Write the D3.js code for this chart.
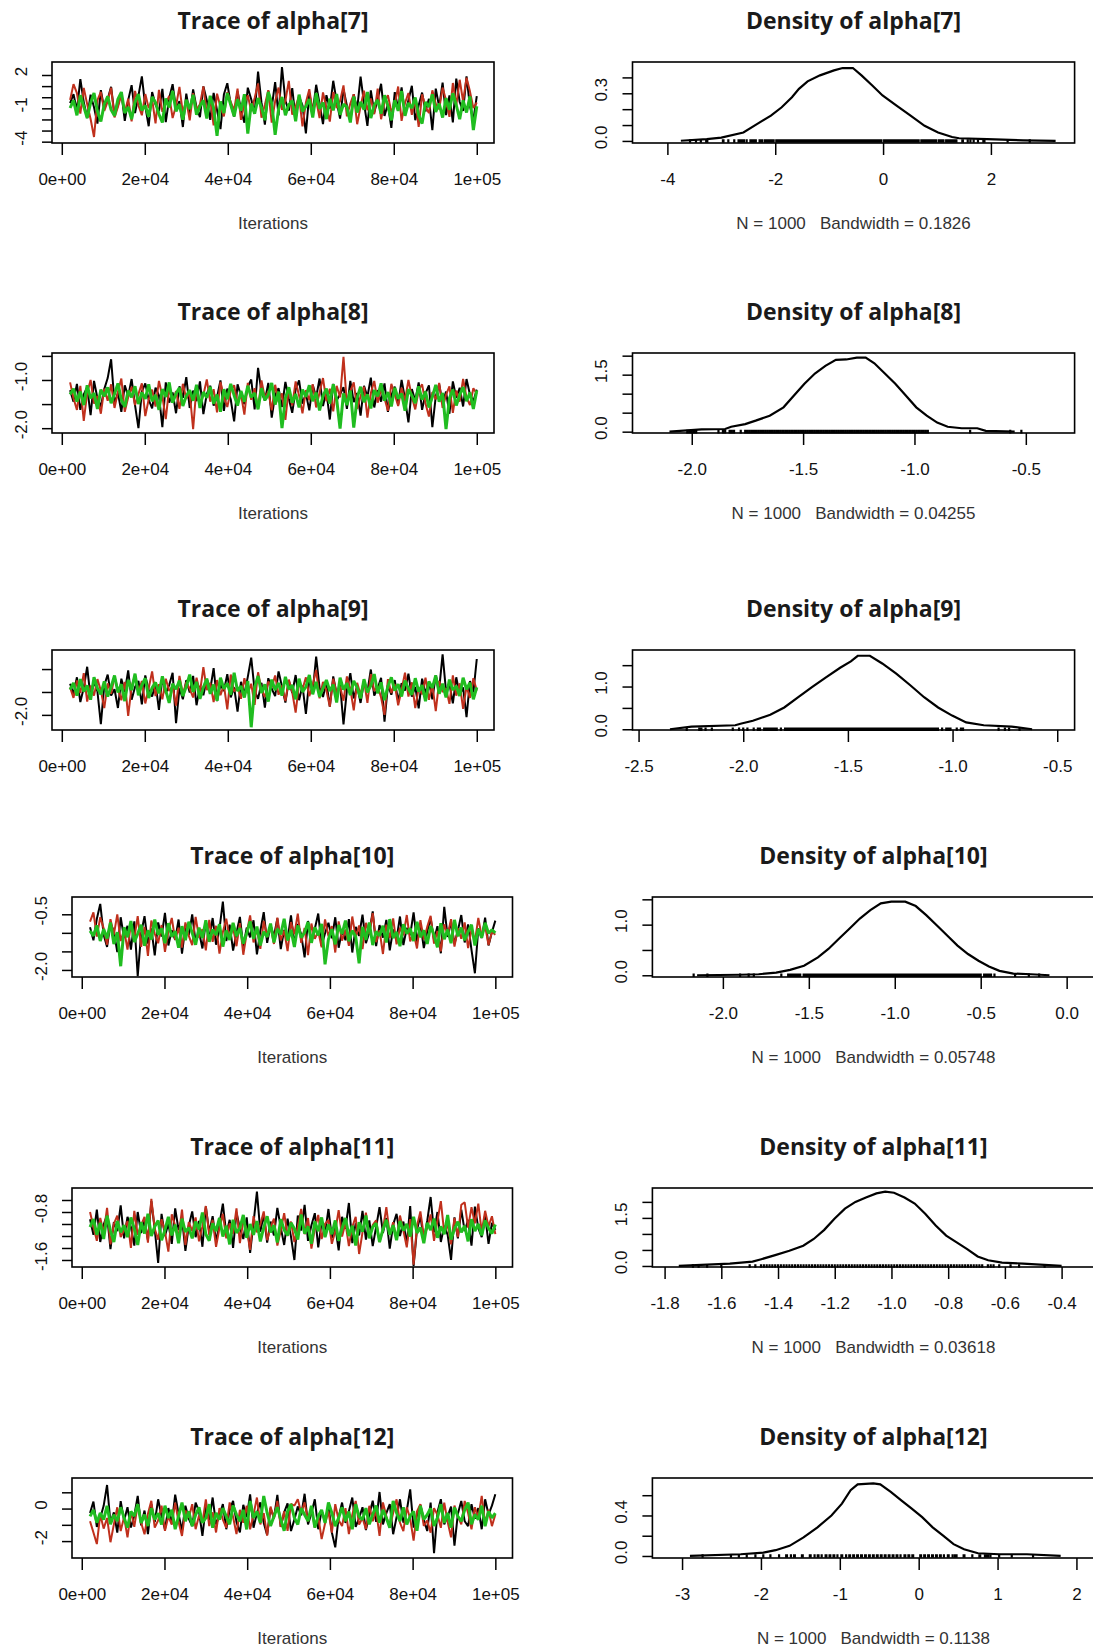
<!DOCTYPE html>
<html><head><meta charset="utf-8">
<script src="https://cdn.jsdelivr.net/npm/d3@7"></script>
<style>
body{margin:0;background:#fff}
text{font-family:"Liberation Sans",Arial,sans-serif}
.title{font-family:"Open Sans","Noto Sans",sans-serif;font-weight:700}
</style>
</head><body><svg id="c" width="1093" height="1650"></svg>
<script>
// ---------------- data ----------------
const params = ["alpha[7]","alpha[8]","alpha[9]","alpha[10]","alpha[11]","alpha[12]"];
const sampleN = [1000,1000,1000,1000,1000,1000];
const bandwidths = ["0.1826","0.04255",null,"0.05748","0.03618","0.1138"];
const chainColors = ["#000000","#c0301c","#20bd20"];
const iterFirst = 2000, iterLast = 100000;
const traceXLim = [-2360, 104150];
const traceXTicks = [0,20000,40000,60000,80000,100000];
const traceXLabels = ["0e+00","2e+04","4e+04","6e+04","8e+04","1e+05"];

// alpha[7]
const trace7Black = [-0.53,0.27,-1.18,1.62,-0.44,-1.87,0.23,-0.91,-2.38,0.64,-1.06,-0.17,0.93,-1.58,-0.72,0.41,-2.13,-0.26,1.08,-1.43,0.14,1.88,-0.83,-2.61,0.47,-0.65,-1.27,0.76,-2.24,-0.08,1.17,-1.04,-0.36,-2.68,0.33,-1.52,0.71,-0.94,-1.79,0.97,-0.28,-2.03,0.38,-1.16,-2.87,0.24,1.26,-0.63,-1.74,0.52,-1.13,-2.29,0.86,-0.18,-1.42,2.31,-0.47,-2.46,0.57,-0.92,1.36,-1.63,2.72,-0.33,-1.21,0.82,-1.97,0.06,-0.74,-3.26,0.37,-1.34,1.12,-0.57,-2.42,0.18,-1.02,1.48,-0.39,-1.93,0.73,-0.77,-2.17,0.28,-1.08,1.86,-0.54,-2.58,0.62,-1.37,-0.23,1.21,-1.68,-0.61,-2.76,0.46,-0.98,0.88,-1.53,-0.27,1.03,-2.07,-0.73,0.42,-1.28,-0.14,-2.97,0.77,-0.87,1.32,-1.61,0.17,-2.26,1.68,-0.43,-1.23,1.87,-0.82,-2.04,0.09];
const trace7Red = [-0.24,1.17,0.36,-1.47,0.83,-0.62,-1.96,-3.58,-0.27,0.48,-1.23,-0.37,0.86,-1.82,-0.88,0.24,-1.38,-0.13,-2.17,0.57,-0.73,-1.62,0.28,-0.97,-0.18,-2.36,0.66,-1.32,-0.54,0.12,-1.87,-0.76,0.92,-1.43,-0.26,-2.08,0.37,-1.14,-0.63,0.98,-1.48,-0.21,-2.53,0.32,-0.86,-1.73,0.46,-0.42,-1.18,0.78,-2.03,-0.58,0.17,-1.27,-0.07,1.23,-1.84,-0.68,0.63,-2.28,-0.37,0.87,-1.13,-0.32,1.47,-1.57,-0.83,0.13,-2.62,-0.48,0.72,-1.37,-0.23,-1.88,0.43,-0.93,-2.19,0.48,-0.97,-0.34,1.06,-1.72,-0.57,0.27,-2.43,-0.82,0.58,-1.17,-0.12,-1.53,0.77,-1.98,-0.43,0.18,-1.33,-0.68,0.96,-2.12,-0.52,0.38,-1.58,-0.24,-2.66,0.26,-0.87,-1.42,0.62,-0.58,-1.07,0.87,-0.27,-1.77,1.28,-0.73,1.57,-0.38,1.76,0.53,-0.97,-0.48];
const trace7Green = [-0.97,-0.28,-1.63,0.18,-0.84,-1.87,-0.52,0.37,-1.27,-2.18,-0.63,0.08,-1.13,-1.68,-0.17,0.46,-1.42,-0.87,-1.98,-0.43,0.27,-1.18,-0.73,-1.76,0.03,-0.48,-1.53,-2.27,-0.12,-0.93,0.57,-1.27,-0.62,-2.03,-0.23,-1.08,0.22,-1.57,-0.82,-0.27,-1.92,0.13,-0.98,-3.47,-0.38,-1.43,0.37,-0.68,-1.73,-0.18,-1.22,0.27,-3.28,-0.57,-1.48,-0.08,-0.92,-2.07,0.47,-0.53,-3.38,-1.07,0.02,-1.62,-0.67,-0.32,-2.17,0.23,-1.28,-0.83,-0.17,-1.82,0.38,-1.03,-0.47,-1.97,-0.13,-1.18,0.28,-1.58,-0.63,-0.88,-2.27,0.07,-1.37,-0.42,-1.12,0.47,-1.88,-0.72,-0.23,-1.48,0.18,-0.78,-2.08,-0.27,-1.23,0.57,-1.67,-0.52,-0.98,-0.03,-1.63,-2.37,-0.43,-0.87,0.26,-1.32,-0.58,-1.83,-0.08,-1.13,0.36,-0.72,-1.97,-0.28,-1.38,0.08,-2.96,-0.82];
const trace7YLim = [-4.12, 3.17];
const trace7YTicks = [-4,-3,-2,-1,0,1,2];
const trace7YLabels = ["-4","","","-1","","","2"];
const dens7X = [-3.75,-3.27,-3.0,-2.59,-2.34,-2.08,-1.88,-1.69,-1.56,-1.40,-1.17,-0.91,-0.75,-0.56,-0.40,-0.20,-0.01,0.25,0.51,0.77,1.02,1.28,1.41,1.93,2.6,3.2];
const dens7Y = [0.001,0.012,0.021,0.053,0.106,0.159,0.212,0.275,0.328,0.375,0.413,0.444,0.459,0.459,0.413,0.349,0.286,0.222,0.159,0.095,0.053,0.025,0.017,0.011,0.004,0.001];
const dens7XLim = [-4.647, 3.552];
const dens7XTicks = [-4,-2,0,2];
const dens7XLabels = ["-4","-2","0","2"];
const dens7YLim = [-0.013, 0.497];
const dens7YTicks = [0,0.1,0.2,0.3,0.4];
const dens7YLabels = ["0.0","","","0.3",""];

// alpha[8]
const trace8Black = [-1.21,-1.45,-1.08,-1.62,-1.30,-1.15,-1.73,-1.02,-1.38,-1.55,-1.19,-0.96,-0.57,-1.48,-1.27,-1.66,-1.11,-1.34,-0.98,-1.52,-2.00,-1.24,-1.07,-1.41,-1.59,-1.16,-1.32,-1.98,-1.05,-1.47,-1.26,-1.69,-1.13,-1.37,-0.94,-1.58,-1.22,-1.44,-1.03,-1.71,-1.29,-1.12,-1.53,-1.35,-1.01,-1.64,-1.18,-1.40,-1.86,-1.09,-1.33,-1.50,-1.14,-0.99,-1.61,-0.75,-1.25,-1.43,-1.06,-1.78,-1.31,-1.17,-1.56,-1.04,-1.39,-1.68,-1.20,-1.01,-1.49,-1.28,-1.63,-1.10,-1.36,-0.97,-1.54,-1.23,-1.82,-1.08,-1.42,-1.30,-1.15,-1.60,-1.02,-1.46,-1.27,-1.74,-1.12,-1.35,-0.95,-1.57,-1.21,-1.45,-1.07,-1.66,-1.32,-1.14,-1.51,-1.00,-1.39,-1.88,-1.19,-1.43,-1.05,-1.62,-1.28,-1.11,-1.98,-1.34,-1.09,-1.48,-1.24,-1.70,-1.03,-1.37,-1.16,-1.55,-0.98,-1.30,-1.44,-1.20];
const trace8Red = [-1.05,-1.38,-1.62,-1.12,-1.85,-1.27,-1.00,-1.49,-1.33,-1.70,-1.18,-1.43,-1.09,-1.58,-1.25,-0.97,-1.66,-1.36,-1.14,-1.52,-1.29,-1.07,-1.75,-1.40,-1.20,-1.55,-1.02,-1.34,-1.81,-1.16,-1.47,-1.23,-1.60,-1.08,-1.39,-1.26,-2.02,-1.13,-1.50,-1.31,-0.99,-1.45,-1.19,-1.67,-1.04,-1.35,-1.56,-1.22,-1.11,-1.48,-1.30,-1.72,-1.06,-1.41,-1.17,-1.59,-1.01,-1.37,-1.24,-1.63,-1.10,-1.46,-1.28,-1.83,-1.15,-1.53,-1.03,-1.32,-1.69,-1.21,-1.42,-1.09,-1.57,-1.26,-0.96,-1.44,-1.18,-1.65,-1.12,-1.36,-0.52,-1.51,-1.23,-1.05,-1.60,-1.33,-1.14,-1.78,-1.27,-1.02,-1.47,-1.19,-1.38,-1.64,-1.08,-1.30,-1.54,-1.16,-1.43,-1.00,-1.35,-1.61,-1.21,-1.09,-1.49,-1.76,-1.25,-1.40,-1.06,-1.58,-1.31,-1.13,-1.68,-1.22,-1.45,-0.98,-1.36,-1.52,-1.17,-1.29];
const trace8Green = [-1.30,-1.18,-1.45,-1.24,-1.52,-1.11,-1.38,-1.27,-1.60,-1.20,-1.34,-1.15,-1.48,-1.29,-1.07,-1.41,-1.56,-1.22,-1.36,-1.13,-1.50,-1.26,-1.39,-1.09,-1.44,-1.31,-1.62,-1.19,-1.35,-1.05,-1.47,-1.28,-1.16,-1.54,-1.33,-1.21,-1.43,-1.10,-1.58,-1.25,-1.37,-1.14,-1.49,-1.30,-1.66,-1.19,-1.40,-1.08,-1.32,-1.53,-1.23,-1.45,-1.12,-1.36,-1.27,-1.61,-1.17,-1.42,-1.31,-1.06,-1.51,-1.24,-2.00,-1.38,-1.15,-1.47,-1.29,-1.57,-1.20,-1.35,-1.11,-1.44,-1.26,-1.63,-1.33,-1.18,-1.49,-1.09,-1.40,-2.01,-1.28,-1.52,-1.22,-1.99,-1.37,-1.14,-1.46,-1.30,-1.59,-1.21,-1.34,-1.07,-1.43,-1.25,-1.55,-1.16,-1.39,-1.28,-1.64,-1.19,-1.32,-1.48,-1.13,-1.41,-1.24,-1.57,-1.35,-1.10,-1.45,-1.27,-2.02,-1.38,-1.20,-1.53,-1.31,-1.15,-1.44,-1.26,-1.60,-1.22];
const trace8YLim = [-2.10, -0.44];
const trace8YTicks = [-2.0,-1.5,-1.0,-0.5];
const trace8YLabels = ["-2.0","","-1.0",""];
const dens8X = [-2.10,-1.956,-1.85,-1.823,-1.760,-1.713,-1.650,-1.588,-1.541,-1.494,-1.447,-1.400,-1.353,-1.306,-1.259,-1.219,-1.180,-1.133,-1.086,-1.039,-0.992,-0.945,-0.898,-0.851,-0.788,-0.718,-0.68,-0.55];
const dens8Y = [0.001,0.06,0.07,0.13,0.20,0.29,0.42,0.64,0.95,1.26,1.53,1.73,1.89,1.90,1.95,1.95,1.80,1.53,1.26,0.95,0.64,0.42,0.24,0.13,0.09,0.09,0.02,0.001];
const dens8XLim = [-2.266, -0.281];
const dens8XTicks = [-2.0,-1.5,-1.0,-0.5];
const dens8XLabels = ["-2.0","-1.5","-1.0","-0.5"];
const dens8YLim = [-0.035, 2.07];
const dens8YTicks = [0,0.5,1.0,1.5,2.0];
const dens8YLabels = ["0.0","","","1.5",""];

// alpha[9]
const trace9Black = [-1.32,-1.55,-1.18,-1.72,-1.41,-0.95,-1.63,-1.27,-1.49,-2.20,-1.36,-1.12,-1.58,-1.44,-1.85,-1.21,-1.50,-1.03,-1.67,-1.39,-1.26,-1.77,-1.14,-1.46,-1.60,-1.31,-1.89,-1.19,-1.53,-1.35,-1.08,-2.18,-1.42,-1.66,-1.24,-1.51,-1.15,-1.79,-1.37,-1.57,-1.22,-1.45,-0.98,-1.70,-1.34,-1.48,-1.11,-1.62,-1.40,-1.93,-1.28,-1.54,-1.17,-0.75,-1.47,-1.65,-1.30,-1.84,-1.20,-1.43,-1.59,-1.05,-1.38,-1.73,-1.25,-1.52,-1.13,-1.68,-1.36,-1.98,-1.23,-1.49,-0.73,-1.41,-1.61,-1.29,-1.82,-1.16,-1.55,-1.33,-2.21,-1.46,-1.09,-1.64,-1.37,-1.74,-1.27,-1.50,-1.01,-1.58,-1.42,-1.19,-2.15,-1.35,-1.56,-1.24,-1.71,-1.31,-1.47,-1.10,-1.60,-1.39,-1.86,-1.21,-1.53,-1.28,-1.66,-1.14,-1.44,-0.68,-1.48,-1.32,-1.75,-1.18,-1.57,-1.40,-2.05,-1.26,-1.51,-0.78];
const trace9Red = [-1.40,-1.63,-1.25,-1.52,-1.09,-1.71,-1.36,-1.58,-1.22,-1.47,-1.85,-1.31,-1.54,-1.17,-1.44,-1.68,-1.28,-2.02,-1.38,-1.13,-1.50,-1.26,-1.75,-1.42,-1.05,-1.59,-1.33,-1.66,-1.21,-1.48,-1.37,-1.80,-1.15,-1.55,-1.29,-1.43,-1.62,-1.19,-1.51,-0.96,-1.46,-1.30,-1.72,-1.24,-1.57,-1.35,-1.88,-1.12,-1.49,-1.39,-1.65,-1.20,-1.53,-1.32,-1.78,-1.07,-1.45,-1.61,-1.27,-1.40,-1.14,-1.56,-1.36,-1.70,-1.23,-1.50,-1.95,-1.31,-1.44,-1.18,-1.59,-1.34,-1.02,-1.64,-1.28,-1.47,-1.82,-1.21,-1.53,-1.38,-1.69,-1.16,-1.43,-1.90,-1.30,-1.56,-1.25,-1.74,-1.11,-1.48,-1.37,-1.62,-2.00,-1.22,-1.52,-1.33,-1.79,-1.45,-1.08,-1.60,-1.29,-1.85,-1.41,-1.55,-1.19,-1.67,-1.34,-1.92,-1.26,-1.50,-1.42,-1.76,-1.14,-1.58,-1.31,-1.87,-1.38,-1.63,-1.20,-1.47];
const trace9Green = [-1.45,-1.30,-1.58,-1.22,-1.49,-1.36,-1.67,-1.18,-1.42,-1.55,-1.27,-1.60,-1.39,-1.14,-1.51,-1.33,-1.70,-1.24,-1.46,-1.10,-1.57,-1.35,-1.20,-1.63,-1.41,-1.29,-1.53,-1.16,-1.47,-1.74,-1.32,-1.44,-1.25,-1.59,-1.38,-1.12,-1.50,-1.28,-1.65,-1.40,-1.21,-1.54,-1.34,-1.69,-1.19,-1.43,-1.31,-1.56,-1.08,-1.48,-1.37,-1.62,-1.26,-2.27,-1.40,-1.15,-1.52,-1.33,-1.71,-1.23,-1.46,-1.30,-1.58,-1.17,-1.44,-1.35,-1.66,-1.21,-1.50,-1.39,-1.13,-1.55,-1.28,-1.61,-1.42,-1.24,-1.48,-1.34,-1.73,-1.19,-1.45,-1.31,-1.57,-1.26,-1.40,-1.64,-1.22,-1.51,-1.36,-1.11,-1.53,-1.29,-1.68,-1.38,-1.18,-1.47,-1.33,-1.60,-1.25,-1.43,-1.56,-1.20,-1.49,-1.35,-1.70,-1.27,-1.41,-1.14,-1.54,-1.32,-1.62,-1.23,-1.46,-1.37,-1.59,-1.19,-1.44,-1.30,-1.66,-1.40];
const trace9YLim = [-2.33, -0.584];
const trace9YTicks = [-2.0,-1.5,-1.0];
const trace9YLabels = ["-2.0","",""];
const dens9X = [-2.35,-2.247,-2.038,-2.013,-1.954,-1.871,-1.804,-1.737,-1.670,-1.603,-1.537,-1.486,-1.453,-1.395,-1.336,-1.269,-1.202,-1.136,-1.069,-1.002,-0.935,-0.851,-0.718,-0.62];
const dens9Y = [0.001,0.063,0.094,0.13,0.20,0.34,0.51,0.75,0.99,1.22,1.44,1.59,1.72,1.72,1.54,1.30,1.03,0.75,0.51,0.32,0.16,0.094,0.063,0.001];
const dens9XLim = [-2.529, -0.417];
const dens9XTicks = [-2.5,-2.0,-1.5,-1.0,-0.5];
const dens9XLabels = ["-2.5","-2.0","-1.5","-1.0","-0.5"];
const dens9YLim = [-0.017, 1.855];
const dens9YTicks = [0,0.5,1.0,1.5];
const dens9YLabels = ["0.0","","1.0",""];

// alpha[10]
const trace10Black = [-0.85,-1.20,-0.62,-0.22,-1.05,-1.38,-0.74,-0.96,-1.52,-0.58,-1.14,-0.81,-1.45,-0.69,-2.17,-1.02,-0.55,-1.29,-0.88,-1.61,-0.72,-1.10,-0.46,-1.34,-0.93,-1.19,-0.64,-1.56,-0.83,-1.07,-0.50,-1.25,-0.97,-1.42,-0.70,-1.16,-0.60,-1.32,-0.90,-0.16,-1.22,-0.78,-1.48,-1.00,-0.57,-1.37,-0.86,-1.12,-0.66,-1.58,-0.95,-0.44,-1.27,-0.80,-1.09,-0.61,-1.44,-0.92,-1.18,-0.53,-1.31,-0.76,-1.04,-1.66,-0.68,-1.23,-0.89,-0.48,-1.35,-1.01,-0.73,-1.15,-0.58,-1.40,-0.94,-1.20,-0.63,-1.53,-0.84,-1.08,-0.51,-1.28,-0.99,-0.42,-1.36,-0.79,-1.13,-0.65,-1.47,-0.91,-1.17,-0.56,-1.33,-0.87,-1.06,-0.45,-1.24,-0.75,-1.41,-0.97,-0.60,-1.19,-0.82,-1.55,-0.30,-1.11,-0.71,-1.30,-0.94,-0.52,-1.26,-0.77,-1.46,-2.09,-0.88,-1.14,-0.59,-1.34,-0.98,-0.67];
const trace10Red = [-0.70,-0.45,-1.10,-0.58,-0.88,-1.32,-0.63,-1.05,-0.50,-1.22,-0.92,-1.45,-0.76,-1.15,-0.55,-1.38,-0.84,-1.62,-0.67,-1.02,-1.28,-0.79,-1.51,-0.95,-0.60,-1.19,-0.86,-1.40,-0.72,-1.08,-1.33,-0.57,-1.13,-0.90,-1.47,-0.65,-1.24,-0.81,-1.56,-0.98,-0.62,-1.17,-0.85,-1.36,-0.74,-1.59,-1.00,-0.53,-1.26,-0.89,-1.43,-0.68,-1.11,-0.83,-1.30,-0.59,-1.20,-0.94,-1.49,-0.71,-1.04,-0.48,-1.27,-0.87,-1.60,-0.75,-1.16,-0.96,-1.39,-0.64,-1.09,-0.82,-1.53,-0.69,-1.21,-0.91,-1.35,-0.56,-1.12,-0.80,-1.44,-0.73,-1.03,-0.47,-1.25,-0.93,-1.57,-0.78,-1.14,-0.61,-1.31,-0.86,-1.07,-0.52,-1.23,-0.99,-1.42,-0.66,-1.18,-0.84,-0.54,-1.29,-0.95,-1.50,-0.77,-1.06,-0.63,-1.37,-0.88,-1.16,-0.72,-1.41,-0.90,-1.24,-0.60,-1.10,-0.81,-1.33,-0.97,-1.05];
const trace10Green = [-0.95,-1.08,-0.80,-1.22,-0.90,-1.15,-0.72,-1.30,-0.98,-1.90,-0.85,-1.12,-0.68,-1.25,-1.02,-0.78,-1.35,-0.93,-1.18,-0.64,-1.05,-0.88,-1.28,-0.74,-1.10,-0.96,-1.40,-0.82,-1.20,-0.70,-1.00,-1.32,-0.86,-1.14,-0.66,-1.24,-0.91,-1.06,-0.77,-1.37,-0.94,-1.19,-0.73,-1.09,-0.87,-1.29,-1.01,-0.69,-1.16,-0.83,-1.34,-0.97,-1.11,-0.75,-1.26,-0.89,-1.04,-0.62,-1.21,-0.92,-1.38,-0.80,-1.13,-0.99,-0.71,-1.27,-0.85,-1.07,-0.76,-1.85,-1.17,-0.90,-1.31,-0.79,-1.03,-0.67,-1.23,-0.94,-1.10,-1.82,-0.84,-1.19,-0.72,-1.33,-0.96,-1.08,-0.81,-1.26,-0.63,-1.14,-0.98,-1.36,-0.77,-1.02,-0.88,-1.22,-0.70,-1.12,-0.93,-1.30,-0.82,-1.05,-1.39,-0.74,-1.17,-0.91,-1.28,-0.65,-1.09,-0.86,-1.20,-0.97,-0.78,-1.34,-0.89,-1.13,-0.73,-1.01,-0.92,-1.00];
const trace10YLim = [-2.19, -0.034];
const trace10YTicks = [-2.0,-1.5,-1.0,-0.5];
const trace10YLabels = ["-2.0","","","-0.5"];
const dens10X = [-2.15,-1.9,-1.792,-1.690,-1.609,-1.528,-1.447,-1.386,-1.325,-1.264,-1.203,-1.142,-1.081,-1.020,-0.939,-0.878,-0.817,-0.756,-0.695,-0.635,-0.574,-0.513,-0.452,-0.391,-0.310,-0.208,-0.1];
const dens10Y = [0.001,0.01,0.02,0.053,0.107,0.187,0.353,0.52,0.72,0.92,1.12,1.286,1.42,1.453,1.453,1.367,1.187,0.987,0.787,0.587,0.42,0.287,0.173,0.087,0.033,0.02,0.001];
const dens10XLim = [-2.41, 0.162];
const dens10XTicks = [-2.0,-1.5,-1.0,-0.5,0.0];
const dens10XLabels = ["-2.0","-1.5","-1.0","-0.5","0.0"];
const dens10YLim = [-0.034, 1.546];
const dens10YTicks = [0,0.5,1.0,1.5];
const dens10YLabels = ["0.0","","1.0",""];

// alpha[11]
const trace11Black = [-0.92,-1.18,-0.76,-1.30,-1.01,-0.85,-1.42,-0.97,-1.12,-0.69,-1.24,-0.88,-1.05,-1.36,-0.80,-1.15,-0.94,-1.27,-0.62,-1.09,-1.65,-0.83,-1.20,-0.99,-1.33,-0.74,-1.10,-0.90,-1.45,-1.03,-0.79,-1.22,-0.95,-1.38,-0.71,-1.14,-0.87,-1.29,-1.00,-0.66,-1.17,-0.93,-1.40,-0.81,-1.07,-1.25,-0.89,-1.48,-0.98,-0.46,-1.13,-0.84,-1.31,-0.96,-1.19,-0.73,-1.06,-1.35,-0.91,-1.21,-1.60,-0.86,-1.11,-0.68,-1.28,-1.02,-0.82,-1.39,-0.97,-1.16,-0.75,-1.23,-1.04,-1.44,-0.88,-1.08,-0.65,-1.32,-0.99,-1.19,-0.78,-1.26,-0.94,-1.37,-1.05,-0.72,-1.15,-0.90,-1.41,-1.01,-0.83,-1.20,-0.96,-1.34,-0.70,-1.70,-1.09,-0.87,-1.27,-0.95,-0.55,-1.14,-0.80,-1.30,-1.03,-1.18,-1.60,-0.89,-1.24,-0.76,-1.12,-0.93,-1.36,-0.71,-1.07,-1.22,-0.85,-1.33,-0.98,-1.10];
const trace11Red = [-0.80,-1.05,-1.28,-0.90,-1.15,-0.73,-1.34,-1.00,-0.86,-1.22,-1.10,-0.95,-1.40,-0.78,-1.18,-1.02,-0.88,-1.31,-0.58,-1.08,-1.26,-0.92,-1.13,-1.46,-0.84,-1.03,-1.21,-0.76,-1.35,-0.97,-1.12,-0.89,-1.29,-1.04,-0.70,-1.19,-0.93,-1.38,-1.07,-0.83,-1.24,-0.99,-1.16,-0.74,-1.32,-0.94,-1.09,-1.43,-0.87,-1.14,-1.01,-0.79,-1.27,-1.06,-0.91,-1.36,-1.11,-0.82,-1.20,-0.96,-1.30,-1.04,-0.75,-1.17,-0.90,-1.41,-1.08,-0.85,-1.25,-1.00,-0.93,-1.33,-1.12,-0.77,-1.21,-0.98,-1.37,-1.05,-0.88,-1.50,-1.14,-0.81,-1.23,-1.02,-0.94,-1.30,-1.09,-0.72,-1.18,-0.97,-1.26,-0.86,-1.11,-1.39,-0.92,-1.68,-1.03,-0.79,-1.20,-1.07,-0.84,-1.28,-0.95,-0.62,-1.15,-1.01,-1.34,-0.90,-1.22,-0.68,-0.64,-1.06,-0.72,-0.99,-0.66,-1.13,-0.78,-1.04,-0.87,-1.17];
const trace11Green = [-1.05,-0.92,-1.18,-0.98,-1.25,-0.86,-1.11,-1.30,-0.95,-1.14,-1.02,-1.22,-0.89,-1.08,-1.35,-0.97,-1.16,-0.83,-1.20,-1.04,-0.94,-1.27,-1.10,-0.88,-1.19,-1.01,-1.32,-0.91,-1.13,-1.06,-1.24,-0.96,-1.09,-0.81,-1.17,-1.28,-0.99,-1.12,-0.90,-1.21,-1.03,-1.34,-0.93,-1.15,-1.07,-0.85,-1.23,-1.00,-1.18,-0.95,-1.29,-1.06,-0.87,-1.14,-1.02,-1.31,-0.92,-1.10,-1.19,-0.98,-1.08,-1.26,-0.84,-1.16,-1.04,-1.33,-0.96,-1.12,-0.89,-1.22,-1.01,-1.17,-0.94,-1.28,-1.07,-0.90,-1.20,-1.03,-1.36,-0.97,-1.13,-0.86,-1.24,-1.05,-0.99,-1.30,-1.09,-0.93,-1.18,-1.02,-1.27,-0.95,-1.11,-1.00,-1.21,-0.88,-1.15,-1.06,-1.32,-0.98,-1.10,-0.91,-1.23,-1.04,-1.17,-0.85,-1.26,-1.08,-0.96,-1.14,-1.03,-1.29,-0.92,-1.12,-1.00,-1.19,-0.94,-1.07,-1.16,-1.01];
const trace11YLim = [-1.717, -0.40];
const trace11YTicks = [-1.6,-1.4,-1.2,-1.0,-0.8,-0.6];
const trace11YLabels = ["-1.6","","","","-0.8",""];
const dens11X = [-1.75,-1.570,-1.490,-1.459,-1.410,-1.360,-1.311,-1.274,-1.237,-1.201,-1.164,-1.127,-1.090,-1.053,-1.022,-0.991,-0.954,-0.918,-0.881,-0.844,-0.807,-0.770,-0.733,-0.696,-0.659,-0.610,-0.536,-0.40];
const dens11Y = [0.001,0.074,0.137,0.211,0.337,0.474,0.632,0.843,1.127,1.475,1.79,2.0,2.138,2.264,2.317,2.285,2.138,1.948,1.632,1.264,0.948,0.737,0.527,0.295,0.179,0.105,0.074,0.001];
const dens11XLim = [-1.843, -0.284];
const dens11XTicks = [-1.8,-1.6,-1.4,-1.2,-1.0,-0.8,-0.6,-0.4];
const dens11XLabels = ["-1.8","-1.6","-1.4","-1.2","-1.0","-0.8","-0.6","-0.4"];
const dens11YLim = [-0.032, 2.433];
const dens11YTicks = [0,0.5,1.0,1.5,2.0];
const dens11YLabels = ["0.0","","","1.5",""];

// alpha[12]
const trace12Black = [-0.27,0.43,-1.13,-0.58,0.17,1.45,-0.87,-0.23,-1.48,0.46,-0.73,0.08,-1.17,-0.42,0.78,-1.03,-0.12,-1.57,0.27,-0.83,0.57,-0.48,-1.28,0.03,-0.92,0.86,-0.33,-1.37,0.18,-0.63,-1.08,0.37,-0.18,-1.68,0.12,-0.72,0.68,-0.97,-0.43,0.28,-1.27,-0.08,0.47,-0.83,-1.47,0.23,-0.53,0.87,-1.18,-0.27,0.38,-0.88,-1.62,0.02,-0.57,0.84,-1.12,-0.23,0.32,-1.38,-0.68,0.13,-0.42,0.91,-0.98,-0.28,0.57,-1.27,-0.13,-0.77,0.18,-1.47,-2.38,-0.52,0.37,-0.88,-0.17,0.68,-1.13,-0.58,0.08,-1.32,-0.37,0.48,-0.82,1.02,-0.97,-0.28,0.27,-1.58,-0.53,0.57,-0.87,-0.12,1.18,-1.17,-0.43,0.22,-0.68,-1.38,0.37,-2.74,-0.23,0.58,-0.97,-0.48,0.12,-2.28,-0.32,0.47,-0.78,-1.08,0.27,-0.62,0.03,-1.27,0.57,-0.37,0.18,0.88];
const trace12Red = [-0.78,-1.47,-2.18,-0.37,-1.23,-0.58,-2.07,-0.97,0.08,-1.38,-0.52,-1.77,-0.18,-1.12,0.27,-0.87,-1.58,-0.32,0.48,-1.17,-0.73,0.18,-1.37,-0.48,-0.98,0.37,-0.83,-1.68,-0.12,-0.57,0.27,-1.27,-0.42,-0.88,0.57,-1.08,-0.23,-1.47,0.03,-0.68,-1.18,0.38,-0.52,-1.57,-0.08,-0.87,0.17,-1.28,-0.37,0.68,-0.97,-0.28,-1.67,0.12,-0.62,0.47,-1.13,-0.17,-1.37,0.28,0.18,0.57,-0.27,0.38,-0.78,0.07,-1.18,-0.47,-1.88,-0.92,-0.18,-1.48,0.27,-0.72,-1.07,0.02,-1.57,-0.38,0.47,-0.98,-0.58,-1.27,0.17,-0.78,-0.13,-1.68,0.38,-0.47,-1.17,-0.28,0.57,-0.87,-1.38,0.08,-0.62,-1.97,-0.18,0.27,-1.07,-0.73,-1.48,0.03,-0.38,-1.18,0.37,-0.82,-1.77,0.18,-0.48,-0.97,0.47,-0.27,-1.28,0.08,-0.57,0.78,-0.88,-0.07,-1.08,-0.37];
const trace12Green = [-0.48,-0.08,-0.87,-0.27,-0.68,0.17,-0.97,-0.38,-0.77,0.08,-0.57,-1.17,-0.18,-0.47,0.27,-0.88,-0.37,-1.07,0.02,-0.67,-0.28,-0.98,0.18,-0.58,-0.07,-1.27,-0.47,0.37,-0.78,-0.17,-1.08,-0.38,0.07,-0.87,-0.57,0.27,-1.18,-0.27,-0.68,0.03,-0.48,-0.97,0.18,-0.37,-0.78,-0.08,-1.28,0.47,-0.57,-0.18,-0.87,0.77,-0.27,-1.07,-0.48,0.08,-0.67,-1.37,-0.17,0.27,-0.57,-0.98,0.02,-0.38,-0.77,0.17,-1.17,-0.47,-0.08,-0.88,0.37,-0.27,-1.08,-0.57,0.08,-0.78,-0.18,-1.27,0.27,-0.48,-0.68,0.03,-0.97,-0.37,0.18,-0.87,-0.08,-0.58,-1.18,0.47,-0.27,-0.77,0.08,-0.98,-0.47,-0.17,-1.37,0.17,-0.67,-0.38,0.02,-1.07,-0.57,0.27,-0.88,-0.27,-1.17,0.07,-0.48,-0.78,-0.08,0.37,-0.97,-0.37,-0.68,0.18,-1.08,-0.17,-0.57,-0.28];
const trace12YLim = [-3.04, 1.88];
const trace12YTicks = [-2,-1,0,1];
const trace12YLabels = ["-2","","0",""];
const dens12X = [-2.9,-2.257,-1.969,-1.814,-1.637,-1.460,-1.283,-1.106,-0.973,-0.863,-0.774,-0.575,-0.487,-0.354,-0.221,-0.088,0.044,0.177,0.310,0.442,0.575,0.752,1.018,1.372,1.8];
const dens12Y = [0.001,0.017,0.033,0.057,0.1,0.183,0.283,0.4,0.517,0.65,0.707,0.717,0.707,0.633,0.55,0.467,0.383,0.283,0.2,0.117,0.067,0.027,0.017,0.017,0.001];
const dens12XLim = [-3.376, 2.229];
const dens12XTicks = [-3,-2,-1,0,1,2];
const dens12XLabels = ["-3","-2","-1","0","1","2"];
const dens12YLim = [-0.02, 0.77];
const dens12YTicks = [0,0.2,0.4,0.6];
const dens12YLabels = ["0.0","","0.4",""];

// ---------------- layout ----------------
const rowTop = [62,353,650,897,1188,1478];
const rowBottom = [143,433,730,977,1267,1558];
const traceLeft = [52,52,52,72,72,72];
const traceRight = [494,494,494,512.5,512.5,512.5];
const densLeft = [632.5,632.5,632.5,652.4,652.4,652.4];
const densRight = [1074.6,1074.6,1074.6,1094.5,1094.5,1094.5];
const chainWidths = [2.0,2.0,3.0];
const fs = 17;

const panels = [
  {chains:[trace7Black,trace7Red,trace7Green], tYLim:trace7YLim, tYTicks:trace7YTicks, tYLabels:trace7YLabels,
   dX:dens7X, dY:dens7Y, dXLim:dens7XLim, dXTicks:dens7XTicks, dXLabels:dens7XLabels, dYLim:dens7YLim, dYTicks:dens7YTicks, dYLabels:dens7YLabels},
  {chains:[trace8Black,trace8Red,trace8Green], tYLim:trace8YLim, tYTicks:trace8YTicks, tYLabels:trace8YLabels,
   dX:dens8X, dY:dens8Y, dXLim:dens8XLim, dXTicks:dens8XTicks, dXLabels:dens8XLabels, dYLim:dens8YLim, dYTicks:dens8YTicks, dYLabels:dens8YLabels},
  {chains:[trace9Black,trace9Red,trace9Green], tYLim:trace9YLim, tYTicks:trace9YTicks, tYLabels:trace9YLabels,
   dX:dens9X, dY:dens9Y, dXLim:dens9XLim, dXTicks:dens9XTicks, dXLabels:dens9XLabels, dYLim:dens9YLim, dYTicks:dens9YTicks, dYLabels:dens9YLabels},
  {chains:[trace10Black,trace10Red,trace10Green], tYLim:trace10YLim, tYTicks:trace10YTicks, tYLabels:trace10YLabels,
   dX:dens10X, dY:dens10Y, dXLim:dens10XLim, dXTicks:dens10XTicks, dXLabels:dens10XLabels, dYLim:dens10YLim, dYTicks:dens10YTicks, dYLabels:dens10YLabels},
  {chains:[trace11Black,trace11Red,trace11Green], tYLim:trace11YLim, tYTicks:trace11YTicks, tYLabels:trace11YLabels,
   dX:dens11X, dY:dens11Y, dXLim:dens11XLim, dXTicks:dens11XTicks, dXLabels:dens11XLabels, dYLim:dens11YLim, dYTicks:dens11YTicks, dYLabels:dens11YLabels},
  {chains:[trace12Black,trace12Red,trace12Green], tYLim:trace12YLim, tYTicks:trace12YTicks, tYLabels:trace12YLabels,
   dX:dens12X, dY:dens12Y, dXLim:dens12XLim, dXTicks:dens12XTicks, dXLabels:dens12XLabels, dYLim:dens12YLim, dYTicks:dens12YTicks, dYLabels:dens12YLabels}
];

const svg = d3.select("#c");
svg.append("rect").attr("width",1093).attr("height",1650).attr("fill","#fff");

function styleXAxis(g, labels){
  g.select(".domain").remove();
  g.selectAll(".tick line").attr("stroke","#000").attr("stroke-width",1.5);
  g.selectAll(".tick text").text((d,i)=>labels[i]).attr("dy",null).attr("y",36)
    .attr("dominant-baseline","central").attr("font-size",fs).attr("fill","#111")
    .attr("font-family","Liberation Sans, Arial, sans-serif");
}
function styleYAxis(g, labels){
  g.select(".domain").remove();
  g.selectAll(".tick line").attr("stroke","#000").attr("stroke-width",1.5);
  g.selectAll(".tick text").text((d,i)=>labels[i]).attr("dy",null).attr("x",null)
    .attr("transform","translate(-31,-4) rotate(-90)").attr("text-anchor","middle")
    .attr("dominant-baseline","central").attr("font-size",fs).attr("fill","#111")
    .attr("font-family","Liberation Sans, Arial, sans-serif");
}

panels.forEach((p, r) => {
  const top = rowTop[r], bot = rowBottom[r];
  const name = params[r];

  // ---------- trace ----------
  const tx = d3.scaleLinear().domain(traceXLim).range([traceLeft[r], traceRight[r]]);
  const ty = d3.scaleLinear().domain(p.tYLim).range([bot, top]);
  const clipId = "clipT"+r;
  svg.append("clipPath").attr("id",clipId).append("rect")
    .attr("x",traceLeft[r]).attr("y",top).attr("width",traceRight[r]-traceLeft[r]).attr("height",bot-top);
  const gt = svg.append("g").attr("clip-path","url(#"+clipId+")");
  p.chains.forEach((vals, ci) => {
    const step = (iterLast - iterFirst) / (vals.length - 1);
    const line = d3.line().x((d,i)=>tx(iterFirst + i*step)).y(d=>ty(d));
    gt.append("path").attr("d", line(vals)).attr("fill","none")
      .attr("stroke", chainColors[ci]).attr("stroke-width", chainWidths[ci]).attr("stroke-linejoin","bevel");
  });
  svg.append("rect").attr("x",traceLeft[r]).attr("y",top).attr("width",traceRight[r]-traceLeft[r]).attr("height",bot-top)
    .attr("fill","none").attr("stroke","#000").attr("stroke-width",1.6);
  svg.append("g").attr("transform",`translate(0,${bot})`)
    .call(d3.axisBottom(tx).tickValues(traceXTicks).tickSize(12))
    .call(g=>styleXAxis(g, traceXLabels));
  svg.append("g").attr("transform",`translate(${traceLeft[r]},0)`)
    .call(d3.axisLeft(ty).tickValues(p.tYTicks).tickSize(10))
    .call(g=>styleYAxis(g, p.tYLabels));
  const tcx = (traceLeft[r]+traceRight[r])/2;
  svg.append("text").attr("class","title").attr("x",tcx).attr("y",top-42)
    .attr("text-anchor","middle").attr("dominant-baseline","central").attr("font-size",23).attr("fill","#1a1a1a")
    .text("Trace of " + name);
  if (bandwidths[r] !== null) {
    svg.append("text").attr("x",tcx).attr("y",bot+80).attr("text-anchor","middle")
      .attr("dominant-baseline","central").attr("font-size",fs).attr("fill","#333").text("Iterations");
  }

  // ---------- density ----------
  const dx = d3.scaleLinear().domain(p.dXLim).range([densLeft[r], densRight[r]]);
  const dy = d3.scaleLinear().domain(p.dYLim).range([bot, top]);
  // observation marks along the baseline (pooled chains)
  const pooled = [].concat(...p.chains);
  const y0 = dy(0);
  const rugPath = pooled.map(v => `M${dx(v).toFixed(2)},${(y0-1.8).toFixed(2)}V${(y0+1.8).toFixed(2)}`).join("");
  svg.append("path").attr("d", rugPath).attr("stroke","#000").attr("stroke-width",2.2).attr("fill","none");
  const dline = d3.line().x(d=>dx(d[0])).y(d=>dy(d[1]));
  svg.append("path").attr("d", dline(p.dX.map((v,i)=>[v,p.dY[i]]))).attr("fill","none")
    .attr("stroke","#000").attr("stroke-width",2.2);
  svg.append("rect").attr("x",densLeft[r]).attr("y",top).attr("width",densRight[r]-densLeft[r]).attr("height",bot-top)
    .attr("fill","none").attr("stroke","#000").attr("stroke-width",1.6);
  svg.append("g").attr("transform",`translate(0,${bot})`)
    .call(d3.axisBottom(dx).tickValues(p.dXTicks).tickSize(12))
    .call(g=>styleXAxis(g, p.dXLabels));
  svg.append("g").attr("transform",`translate(${densLeft[r]},0)`)
    .call(d3.axisLeft(dy).tickValues(p.dYTicks).tickSize(10))
    .call(g=>styleYAxis(g, p.dYLabels));
  const dcx = (densLeft[r]+densRight[r])/2;
  svg.append("text").attr("class","title").attr("x",dcx).attr("y",top-42)
    .attr("text-anchor","middle").attr("dominant-baseline","central").attr("font-size",23).attr("fill","#1a1a1a")
    .text("Density of " + name);
  if (bandwidths[r] !== null) {
    svg.append("text").attr("x",dcx).attr("y",bot+80).attr("text-anchor","middle")
      .attr("dominant-baseline","central").attr("font-size",fs).attr("fill","#333")
      .style("white-space","pre")
      .text("N = " + sampleN[r] + "   Bandwidth = " + bandwidths[r]);
  }
});
</script>
</body></html>
